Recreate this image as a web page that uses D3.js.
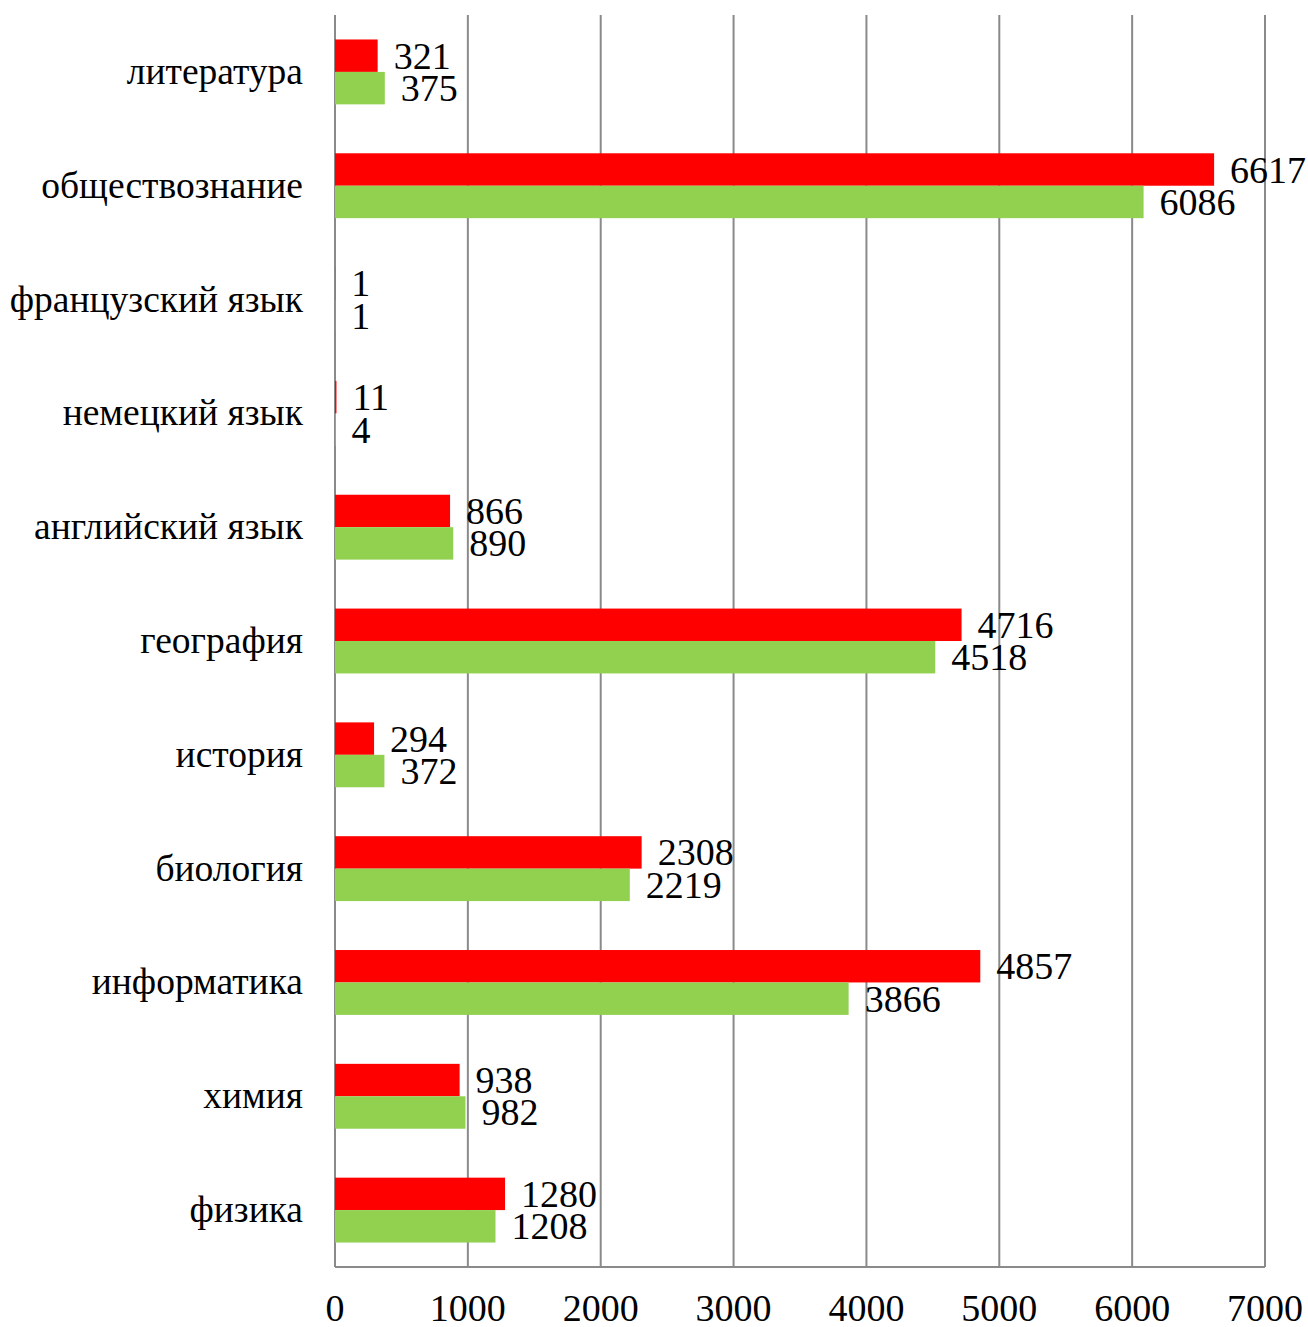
<!DOCTYPE html>
<html>
<head>
<meta charset="utf-8">
<script src="https://cdn.jsdelivr.net/npm/d3@7"></script>
<style>
  body { margin: 0; background: #fff; }
  svg text { font-family: "Times New Roman", "Liberation Serif", "DejaVu Serif", serif; fill: #000; }
</style>
</head>
<body>
<script>
// data
var subjects = ["литература", "обществознание", "французский язык", "немецкий язык",
  "английский язык", "география", "история", "биология", "информатика", "химия", "физика"];
var redValues = [321, 6617, 1, 11, 866, 4716, 294, 2308, 4857, 938, 1280];
var greenValues = [375, 6086, 1, 4, 890, 4518, 372, 2219, 3866, 982, 1208];
var seriesKeys = ["red", "green"];
var seriesColors = ["#ff0000", "#92d050"];
var xTicks = [0, 1000, 2000, 3000, 4000, 5000, 6000, 7000];

var width = 1308, height = 1327;
var margin = { top: 15, right: 43, bottom: 60, left: 335 };
var serif = "'Times New Roman', 'Liberation Serif', 'DejaVu Serif', serif";

var svg = d3.select("body").append("svg")
  .attr("width", width)
  .attr("height", height)
  .attr("font-family", serif);

var x = d3.scaleLinear()
  .domain([0, 7000])
  .range([margin.left, width - margin.right]);

var y = d3.scaleBand()
  .domain(subjects)
  .range([margin.top, height - margin.bottom])
  .paddingInner(0.43)
  .paddingOuter(0.215);

var ySub = d3.scaleBand()
  .domain(seriesKeys)
  .range([0, y.bandwidth()]);

var rows = subjects.map(function (s, i) {
  return { name: s, red: redValues[i], green: greenValues[i] };
});

// grid
svg.append("g")
  .selectAll("line")
  .data(xTicks)
  .enter().append("line")
  .attr("x1", function (d) { return x(d); })
  .attr("x2", function (d) { return x(d); })
  .attr("y1", margin.top)
  .attr("y2", height - margin.bottom)
  .style("stroke", "#8a8a8a")
  .style("stroke-width", 2);

svg.append("line")
  .attr("x1", x(0)).attr("x2", x(7000))
  .attr("y1", height - margin.bottom).attr("y2", height - margin.bottom)
  .style("stroke", "#8a8a8a")
  .style("stroke-width", 2);

// x tick labels
svg.append("g")
  .selectAll("text")
  .data(xTicks)
  .enter().append("text")
  .attr("x", function (d) { return x(d); })
  .attr("y", height - 6)
  .attr("text-anchor", "middle")
  .style("font-size", "38px")
  .text(function (d) { return d; });

// category labels
svg.append("g")
  .selectAll("text")
  .data(subjects)
  .enter().append("text")
  .attr("x", margin.left - 32)
  .attr("y", function (d) { return y(d) + y.bandwidth() / 2 + 12; })
  .attr("text-anchor", "end")
  .style("font-size", "37.5px")
  .text(function (d) { return d; });

// bars + value labels
var groups = svg.append("g")
  .selectAll("g")
  .data(rows)
  .enter().append("g")
  .attr("transform", function (d) { return "translate(0," + y(d.name) + ")"; });

seriesKeys.forEach(function (k, i) {
  groups.append("rect")
    .attr("x", x(0))
    .attr("y", ySub(k))
    .attr("width", function (d) { return x(d[k]) - x(0); })
    .attr("height", ySub.bandwidth())
    .style("fill", seriesColors[i]);

  groups.append("text")
    .attr("x", function (d) { return x(d[k]) + 16; })
    .attr("y", ySub(k) + ySub.bandwidth() / 2 + 13)
    .style("font-size", "38px")
    .text(function (d) { return d[k]; });
});
</script>
</body>
</html>
